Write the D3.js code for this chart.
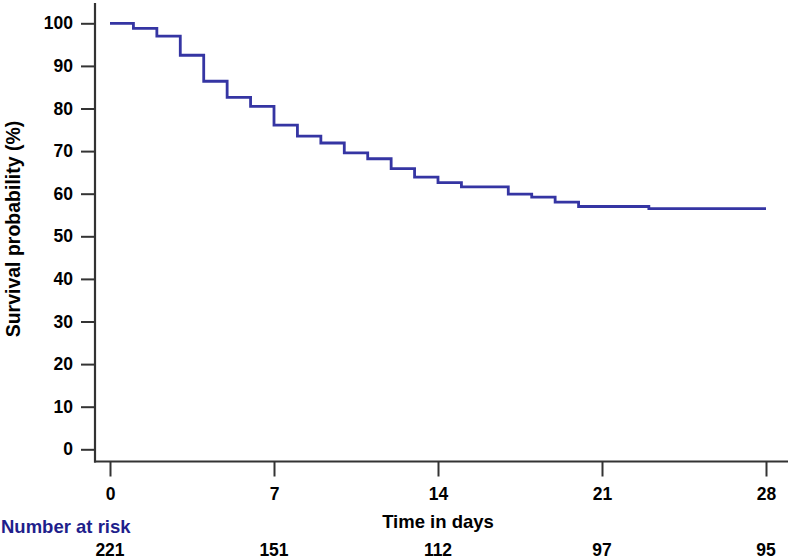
<!DOCTYPE html>
<html>
<head>
<meta charset="utf-8">
<script src="https://cdn.jsdelivr.net/npm/d3@7"></script>
<style>
  html, body { margin: 0; padding: 0; background: #fff; }
  svg { display: block; font-family: Arial, "Liberation Sans", sans-serif; font-weight: bold; }
</style>
</head>
<body>
<svg id="chart" width="790" height="559"></svg>
<script>
const times = [0, 1, 2, 3, 4, 5, 6, 7, 8, 9, 10, 11, 12, 13, 14, 15, 17, 18, 19, 20, 23, 28];
const survival = [100, 98.8, 97.0, 92.5, 86.4, 82.6, 80.5, 76.1, 73.5, 71.9, 69.6, 68.2, 65.9, 63.9, 62.6, 61.6, 59.9, 59.2, 58.0, 57.0, 56.5, 56.5];
const xTicks = [0, 7, 14, 21, 28];
const yTicks = [0, 10, 20, 30, 40, 50, 60, 70, 80, 90, 100];
const atRisk = [221, 151, 112, 97, 95];

const svg = d3.select("#chart");
const x = d3.scaleLinear().domain([0, 28]).range([110, 766]);
const y = d3.scaleLinear().domain([0, 100]).range([449.3, 23.3]);

const axisX = 95, axisY = 461.5;
const axisColor = "#333";

// Y axis
const gy = svg.append("g").attr("transform", `translate(${axisX},0)`)
  .call(d3.axisLeft(y).tickValues(yTicks).tickSize(14).tickPadding(8).tickSizeOuter(0));
gy.select(".domain").remove();
gy.selectAll(".tick line").attr("stroke", axisColor).attr("stroke-width", 2);
gy.selectAll(".tick text").attr("fill", "#000").style("font-size", "17.5px").style("font-weight", "bold")
  .style("font-family", "Arial, 'Liberation Sans', sans-serif");
svg.append("line").attr("x1", axisX).attr("x2", axisX).attr("y1", 3).attr("y2", axisY + 1)
  .attr("stroke", axisColor).attr("stroke-width", 2.2);

// X axis
const gx = svg.append("g").attr("transform", `translate(0,${axisY})`)
  .call(d3.axisBottom(x).tickValues(xTicks).tickSize(15).tickPadding(11).tickSizeOuter(0));
gx.select(".domain").remove();
gx.selectAll(".tick line").attr("stroke", axisColor).attr("stroke-width", 2);
gx.selectAll(".tick text").attr("fill", "#000").style("font-size", "17.5px").style("font-weight", "bold")
  .style("font-family", "Arial, 'Liberation Sans', sans-serif");
svg.append("line").attr("x1", axisX - 1).attr("x2", 788).attr("y1", axisY).attr("y2", axisY)
  .attr("stroke", axisColor).attr("stroke-width", 2.2);

// Survival step line
const line = d3.line().x(d => x(d[0])).y(d => y(d[1])).curve(d3.curveStepAfter);
svg.append("path").datum(times.map((t, i) => [t, survival[i]]))
  .attr("d", line).attr("fill", "none").attr("stroke", "#3535a3").attr("stroke-width", 2.8)
  .attr("stroke-linejoin", "miter");

// Axis titles
svg.append("text").attr("x", x(14)).attr("y", 528).attr("text-anchor", "middle")
  .style("font-size", "18.5px").text("Time in days");
svg.append("text").attr("transform", `translate(20,229) rotate(-90)`).attr("text-anchor", "middle")
  .style("font-size", "19.5px").text("Survival probability (%)");

// Number at risk
svg.append("text").attr("x", 1).attr("y", 533).attr("fill", "#1f1f8c")
  .style("font-size", "18.5px").text("Number at risk");
svg.selectAll(".risk").data(atRisk).enter().append("text")
  .attr("x", (d, i) => x(xTicks[i])).attr("y", 556).attr("text-anchor", "middle")
  .style("font-size", "17.5px").text(d => d);
</script>
</body>
</html>
